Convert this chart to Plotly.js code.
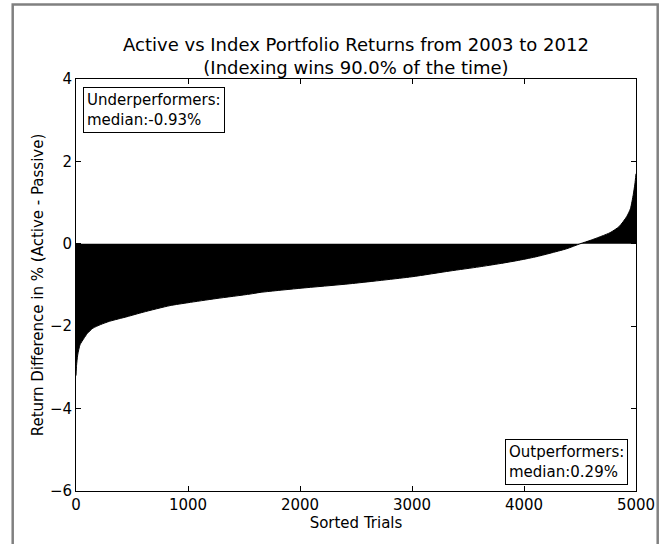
<!DOCTYPE html>
<html>
<head>
<meta charset="utf-8">
<script src="https://cdn.plot.ly/plotly-3.0.1.min.js"></script>
<style>
html,body{margin:0;padding:0;background:#fff;}
#chart{width:663px;height:544px;}
</style>
</head>
<body>
<div id="chart"></div>
<script>
// Sorted trial index and return difference (%)
const trials = [0, 5, 15, 36, 70, 100, 150, 220, 300, 455, 600, 840, 1000, 1250, 1554, 1643, 2000, 2446, 3000, 3339, 3600, 3786, 3935, 4100, 4232, 4381, 4500, 4600, 4768, 4850, 4917, 4950, 4976, 4990, 5000];
const diffs  = [-3.2, -2.95, -2.7, -2.45, -2.3, -2.18, -2.05, -1.96, -1.88, -1.77, -1.66, -1.5, -1.43, -1.33, -1.22, -1.18, -1.08, -0.97, -0.8, -0.66, -0.56, -0.48, -0.41, -0.32, -0.23, -0.12, 0.0, 0.09, 0.27, 0.42, 0.66, 0.85, 1.2, 1.45, 1.7];
const xTicks = [0, 1000, 2000, 3000, 4000, 5000];
const yTicks = [-6, -4, -2, 0, 2, 4];
const titleText = "Active vs Index Portfolio Returns from 2003 to 2012<br>(Indexing wins 90.0% of the time)";
const underText = "Underperformers:<br>median:-0.93%";
const outText = "Outperformers:<br>median:0.29%";

const font = "DejaVu Sans, sans-serif";
const data = [{
  x: trials, y: diffs, type: "scatter", mode: "lines",
  fill: "tozeroy", fillcolor: "#000000",
  line: {color: "#000000", width: 1, shape: "spline", smoothing: 0.6},
  hoverinfo: "skip"
}];
const W = 560, H = 412, L = 76, T = 79.3;
function px(x){ return (x - L) / W; }
function py(y){ return (T + H - y) / H; }
const layout = {
  width: 663, height: 544,
  margin: {l: 76, r: 27.3, t: 79.3, b: 53, pad: 0},
  paper_bgcolor: "#ffffff", plot_bgcolor: "#ffffff",
  showlegend: false,
  font: {family: font, size: 15, color: "#000"},
  title: {text: titleText, font: {family: font, size: 18, color: "#000"},
          xref: "paper", x: 0.5, xanchor: "center",
          yref: "container", y: 1 - 51/544, yanchor: "top"},
  xaxis: {
    range: [0, 5000], tickvals: xTicks, ticktext: xTicks.map(String),
    ticks: "inside", ticklen: 5, tickcolor: "#000", tickwidth: 1,
    showline: true, linecolor: "#000", linewidth: 1, mirror: "ticks",
    showgrid: false, zeroline: false,
    tickfont: {family: font, size: 15},
    title: {text: "Sorted Trials", font: {family: font, size: 15}, standoff: 2}
  },
  yaxis: {
    range: [-6, 4], tickvals: yTicks,
    ticks: "inside", ticklen: 5, tickcolor: "#000", tickwidth: 1,
    showline: true, linecolor: "#000", linewidth: 1, mirror: "ticks",
    showgrid: false, zeroline: false,
    tickfont: {family: font, size: 15},
    title: {text: "Return Difference in % (Active - Passive)", font: {family: font, size: 15}, standoff: 2}
  },
  annotations: [
    {text: underText, xref: "paper", yref: "paper", x: px(83), y: py(87),
     xanchor: "left", yanchor: "top", align: "left", showarrow: false,
     bordercolor: "#000", borderwidth: 1, borderpad: 3, bgcolor: "#fff",
     font: {family: font, size: 15, color: "#000"}},
    {text: outText, xref: "paper", yref: "paper", x: px(628), y: py(485),
     xanchor: "right", yanchor: "bottom", align: "left", showarrow: false,
     bordercolor: "#000", borderwidth: 1, borderpad: 3, bgcolor: "#fff",
     font: {family: font, size: 15, color: "#000"}}
  ],
  shapes: [
    {type: "rect", xref: "paper", yref: "paper", layer: "above",
     x0: px(12.7), x1: px(657.7), y0: py(560), y1: py(4.7),
     line: {color: "#808080", width: 2.5}, fillcolor: "rgba(0,0,0,0)"}
  ]
};
Plotly.newPlot("chart", data, layout, {staticPlot: true, displayModeBar: false});
</script>
</body>
</html>
